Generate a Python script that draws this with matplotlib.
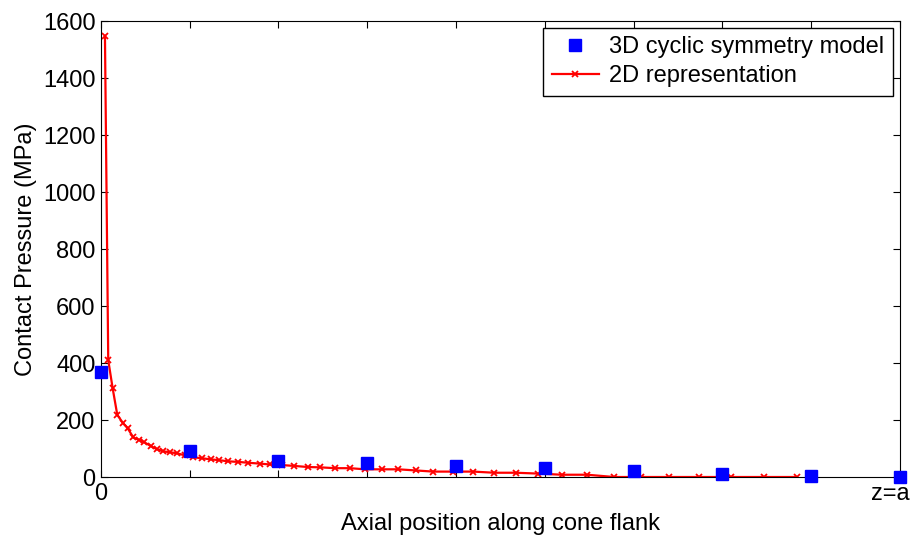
import numpy as np
import matplotlib.pyplot as plt
from matplotlib.transforms import ScaledTranslation

plt.rcParams["font.family"] = ["Liberation Sans", "DejaVu Sans"]

# 3D cyclic symmetry model (one value per tick position)
pos_3d = [0, 1, 2, 3, 4, 5, 6, 7, 8, 9]
p_3d = [368, 91, 56, 49, 38, 32, 21, 10, 4, 0]

# 2D representation
pos_2d = [0.045, 0.082, 0.132, 0.184, 0.251, 0.301, 0.364, 0.428, 0.488, 0.560,
          0.627, 0.702, 0.777, 0.859, 0.946, 1.040, 1.134, 1.236, 1.332, 1.434,
          1.547, 1.659, 1.791, 1.904, 2.035, 2.174, 2.335, 2.467, 2.636, 2.805,
          2.974, 3.162, 3.349, 3.548, 3.743, 3.962, 4.194, 4.430, 4.675, 4.926,
          5.193, 5.478, 5.782, 6.082, 6.401, 6.736, 7.093, 7.465, 7.836]
p_2d = [1548, 410, 311, 218, 188, 171, 139, 130, 122, 109,
        98, 90, 87, 83, 76, 69, 66, 62, 59, 55,
        53, 50, 47, 44, 42, 39, 35, 34, 31, 31,
        27, 27, 27, 23, 19, 19, 19, 15, 15, 12,
        8, 8, 0, 0, 0, 0, 0, 0, 0]

xtick_labels = ["0", "", "", "", "", "", "", "", "", "z=a"]

fig = plt.figure(figsize=(9.12, 5.39), dpi=100)
ax = fig.add_axes([0.1107, 0.115, 0.876, 0.846])

ax.plot(pos_3d, p_3d, "s", color="#0000ff", markersize=8.5, clip_on=False,
        label="3D cyclic symmetry model", zorder=3)
ax.plot(pos_2d, p_2d, "-x", color="#ff0000", linewidth=1.6, markersize=4,
        markeredgewidth=1.3, label="2D representation", zorder=2)

ax.set_xlim(0, 9)
ax.set_ylim(0, 1600)
ax.set_xticks(range(10))
ax.set_xticklabels(xtick_labels)
ax.set_yticks(range(0, 1601, 200))
ax.tick_params(direction="in", length=5, top=True, right=True, labelsize=17, pad=4)
ax.set_xlabel("Axial position along cone flank", fontsize=17, labelpad=6)
ax.set_ylabel("Contact Pressure (MPa)", fontsize=17, labelpad=4)

# pull the last tick label inwards so it stays inside the figure
last = ax.get_xticklabels()[-1]
last.set_transform(last.get_transform() + ScaledTranslation(-10 / 100, 0, fig.dpi_scale_trans))

leg = ax.legend(loc="upper right", fontsize=17, fancybox=False, edgecolor="black",
                framealpha=1, borderaxespad=0.3, handlelength=2.0,
                handletextpad=0.45, borderpad=0.35, labelspacing=0.3)
leg.get_frame().set_linewidth(1.0)

plt.savefig("out.png", dpi=100)
